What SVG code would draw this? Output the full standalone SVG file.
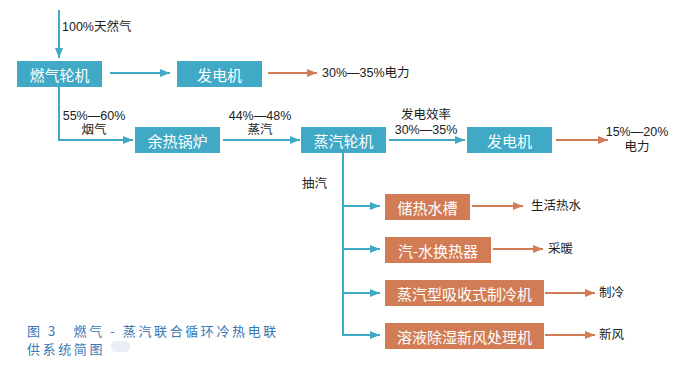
<svg xmlns="http://www.w3.org/2000/svg" width="693" height="378" viewBox="0 0 693 378">
<defs>
<marker id="ab" markerWidth="10" markerHeight="8" refX="10" refY="4" orient="auto" markerUnits="userSpaceOnUse"><path d="M0,0 L10,4 L0,8 Z" fill="#3fa9c6"/></marker>
<marker id="ao" markerWidth="10" markerHeight="8" refX="10" refY="4" orient="auto" markerUnits="userSpaceOnUse"><path d="M0,0 L10,4 L0,8 Z" fill="#d17c55"/></marker>
</defs>
<style>
.b{fill:#3fa9c6}
.o{fill:#d17c55}
.bt{fill:#fff;font-family:"Noto Sans CJK SC","Noto Sans",sans-serif;font-size:15px;text-anchor:middle;dominant-baseline:central}
.lb{fill:#222;font-family:"Liberation Sans","Noto Sans CJK SC",sans-serif;font-size:12.5px;dominant-baseline:central}
.lc{text-anchor:middle}
.cb{fill:none;stroke:#3fa9c6;stroke-width:2}
.co{fill:none;stroke:#d17c55;stroke-width:2}
.cap{fill:#3a78b5;font-family:"Noto Sans CJK SC",sans-serif;font-size:13px;letter-spacing:2.6px;dominant-baseline:central}
</style>
<rect width="693" height="378" fill="#fff"/>
<g id="connectors">
<path class="cb" d="M59,10 V58" marker-end="url(#ab)"/>
<path class="cb" d="M110,73 H170" marker-end="url(#ab)"/>
<path class="co" d="M268,73 H317" marker-end="url(#ao)"/>
<path class="cb" d="M59,87 V140 H133" marker-end="url(#ab)"/>
<path class="cb" d="M223,140 H300" marker-end="url(#ab)"/>
<path class="cb" d="M389,140 H465" marker-end="url(#ab)"/>
<path class="co" d="M556,140 H608" marker-end="url(#ao)"/>
<path class="cb" d="M343,153 V335"/>
<path class="cb" d="M343,206 H380" marker-end="url(#ab)"/>
<path class="cb" d="M343,249 H380" marker-end="url(#ab)"/>
<path class="cb" d="M343,293 H380" marker-end="url(#ab)"/>
<path class="cb" d="M342,335 H380" marker-end="url(#ab)"/>
<path class="co" d="M472,206 H523" marker-end="url(#ao)"/>
<path class="co" d="M493,249 H543" marker-end="url(#ao)"/>
<path class="co" d="M545,293 H595" marker-end="url(#ao)"/>
<path class="co" d="M545,335 H595" marker-end="url(#ao)"/>
</g>
<g id="labels">
<text class="lb" x="62" y="27">100%天然气</text>
<text class="lb" x="322" y="73">30%—35%电力</text>
<text class="lb lc" x="94" y="116">55%—60%</text>
<text class="lb lc" x="94" y="130">烟气</text>
<text class="lb lc" x="260" y="116">44%—48%</text>
<text class="lb lc" x="260" y="130">蒸汽</text>
<text class="lb lc" x="426" y="115">发电效率</text>
<text class="lb lc" x="426" y="130">30%—35%</text>
<text class="lb lc" x="637" y="132">15%—20%</text>
<text class="lb lc" x="637" y="147">电力</text>
<text class="lb" x="302" y="184">抽汽</text>
<text class="lb" x="531" y="206">生活热水</text>
<text class="lb" x="548" y="249">采暖</text>
<text class="lb" x="599" y="293">制冷</text>
<text class="lb" x="599" y="335">新风</text>
</g>
<g id="gas-turbine"><rect class="b" x="17" y="61" width="85" height="26"/><text class="bt" x="59.5" y="74">燃气轮机</text></g>
<g id="generator1"><rect class="b" x="177" y="61" width="85" height="26"/><text class="bt" x="219.5" y="74">发电机</text></g>
<g id="hrsg"><rect class="b" x="135" y="127" width="85" height="26"/><text class="bt" x="177.5" y="140">余热锅炉</text></g>
<g id="steam-turbine"><rect class="b" x="301" y="127" width="85" height="26"/><text class="bt" x="343.5" y="140">蒸汽轮机</text></g>
<g id="generator2"><rect class="b" x="467" y="127" width="85" height="26"/><text class="bt" x="509.5" y="140">发电机</text></g>
<g id="storage"><rect class="o" x="385" y="194" width="85" height="26"/><text class="bt" x="427.5" y="207">储热水槽</text></g>
<g id="exchanger"><rect class="o" x="385" y="237" width="106" height="26"/><text class="bt" x="438" y="250">汽-水换热器</text></g>
<g id="chiller"><rect class="o" x="385" y="280" width="159" height="26"/><text class="bt" x="464.5" y="293">蒸汽型吸收式制冷机</text></g>
<g id="dehumidifier"><rect class="o" x="385" y="323" width="159" height="26"/><text class="bt" x="464.5" y="336">溶液除湿新风处理机</text></g>
<g id="caption">
<text class="cap" x="27" y="330">图 3　燃气 - 蒸汽联合循环冷热电联</text>
<text class="cap" x="27" y="348">供系统简图</text>
<rect x="111" y="341" width="19" height="11" rx="5" fill="#e9eff5"/>
</g>
</svg>
